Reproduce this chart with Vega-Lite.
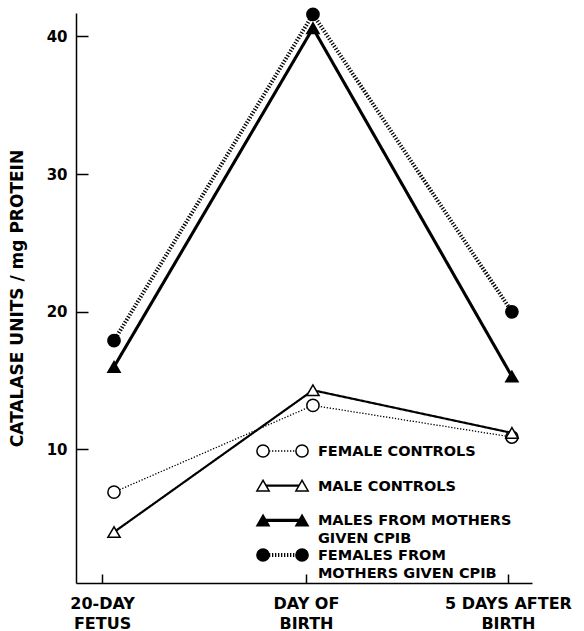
{
  "$schema": "https://vega.github.io/schema/vega-lite/v6.json",
  "width": 456,
  "height": 570,
  "autosize": {"type": "none"},
  "padding": {"left": 76, "top": 13, "right": 52, "bottom": 48},
  "background": "white",
  "config": {
    "view": {"stroke": null},
    "legend": {"disable": true},
    "font": "DejaVu Sans",
    "axis": {"domainColor": "black", "tickColor": "black", "labelColor": "black", "titleColor": "black", "grid": false, "domainWidth": 1.5, "tickWidth": 1.5}
  },
  "datasets": {
    "points": [
      {"series": "Female controls", "stage": "20-day fetus", "t": 0, "value": 6.9},
      {"series": "Female controls", "stage": "Day of birth", "t": 1, "value": 13.2},
      {"series": "Female controls", "stage": "5 days after birth", "t": 2, "value": 10.9},
      {"series": "Male controls", "stage": "20-day fetus", "t": 0, "value": 4.0},
      {"series": "Male controls", "stage": "Day of birth", "t": 1, "value": 14.3},
      {"series": "Male controls", "stage": "5 days after birth", "t": 2, "value": 11.2},
      {"series": "Males from mothers given CPIB", "stage": "20-day fetus", "t": 0, "value": 16.0},
      {"series": "Males from mothers given CPIB", "stage": "Day of birth", "t": 1, "value": 40.6},
      {"series": "Males from mothers given CPIB", "stage": "5 days after birth", "t": 2, "value": 15.3},
      {"series": "Females from mothers given CPIB", "stage": "20-day fetus", "t": 0, "value": 17.9},
      {"series": "Females from mothers given CPIB", "stage": "Day of birth", "t": 1, "value": 41.6},
      {"series": "Females from mothers given CPIB", "stage": "5 days after birth", "t": 2, "value": 20.0}
    ],
    "legend": [
      {"series": "Female controls", "entry": 1, "label": ["FEMALE  CONTROLS"]},
      {"series": "Male controls", "entry": 2, "label": ["MALE  CONTROLS"]},
      {"series": "Males from mothers given CPIB", "entry": 3, "label": ["MALES  FROM  MOTHERS", "GIVEN  CPIB"]},
      {"series": "Females from mothers given CPIB", "entry": 4, "label": ["FEMALES  FROM", "MOTHERS  GIVEN  CPIB"]}
    ]
  },
  "resolve": {"scale": {"y": "independent"}},
  "layer": [
    {
      "data": {"name": "points"},
      "encoding": {
        "x": {
          "field": "t", "type": "quantitative",
          "scale": {"domain": [-0.191, 2.101], "nice": false, "zero": false},
          "axis": {
            "title": null, "values": [-0.06, 0.965, 1.98],
            "labelExpr": "datum.value < 0.5 ? ['20-DAY', 'FETUS'] : datum.value < 1.5 ? ['DAY OF', 'BIRTH'] : ['5 DAYS AFTER', 'BIRTH']",
            "tickSize": -9, "labelPadding": 21, "labelFontSize": 16, "labelFontWeight": "bold", "labelLineHeight": 20,
            "labelFlush": false, "labelOverlap": false, "labelAlign": "center", "labelBaseline": "top"
          }
        },
        "y": {
          "field": "value", "type": "quantitative",
          "scale": {"domain": [0.3, 41.7], "nice": false, "zero": false},
          "axis": {
            "title": "CATALASE UNITS / mg PROTEIN", "titleFontSize": 17, "titleFontWeight": "bold",
            "titleX": -54, "titleBaseline": "alphabetic",
            "values": [10, 20, 30, 40], "tickSize": -12, "labelPadding": 21, "labelFontSize": 15, "labelFontWeight": "bold"
          }
        }
      },
      "layer": [
        {
          "mark": {"type": "line", "color": "black"},
          "encoding": {
            "detail": {"field": "series"},
            "strokeDash": {"field": "series", "type": "nominal", "scale": {"domain": ["Female controls", "Male controls", "Males from mothers given CPIB", "Females from mothers given CPIB"], "range": [[1.3, 1.7], [1, 0], [1, 0], [1.3, 1.7]]}},
            "strokeWidth": {"field": "series", "type": "nominal", "scale": {"domain": ["Female controls", "Male controls", "Males from mothers given CPIB", "Females from mothers given CPIB"], "range": [1.3, 4, 4, 1.3]}}
          }
        },
        {
          "mark": {"type": "point", "filled": true, "stroke": "black", "strokeWidth": 1.5, "size": 150, "opacity": 1},
          "encoding": {
            "shape": {"field": "series", "type": "nominal", "scale": {"domain": ["Female controls", "Male controls", "Males from mothers given CPIB", "Females from mothers given CPIB"], "range": ["circle", "triangle-up", "triangle-up", "circle"]}},
            "fill": {"field": "series", "type": "nominal", "scale": {"domain": ["Female controls", "Male controls", "Males from mothers given CPIB", "Females from mothers given CPIB"], "range": ["white", "white", "black", "black"]}}
          }
        }
      ]
    },
    {
      "data": {"name": "legend"},
      "encoding": {
        "y": {"field": "entry", "type": "quantitative", "scale": {"domain": [1, 4], "range": [438, 542], "nice": false, "zero": false}, "axis": null}
      },
      "layer": [
        {
          "mark": {"type": "rule", "color": "black"},
          "encoding": {
            "x": {"datum": 0.749, "type": "quantitative"},
            "x2": {"datum": 0.945},
            "strokeDash": {"field": "series", "type": "nominal"},
            "strokeWidth": {"field": "series", "type": "nominal"}
          }
        },
        {
          "mark": {"type": "point", "filled": true, "stroke": "black", "strokeWidth": 1.5, "size": 150, "opacity": 1},
          "encoding": {
            "x": {"datum": 0.749, "type": "quantitative"},
            "shape": {"field": "series", "type": "nominal"},
            "fill": {"field": "series", "type": "nominal"}
          }
        },
        {
          "mark": {"type": "point", "filled": true, "stroke": "black", "strokeWidth": 1.5, "size": 150, "opacity": 1},
          "encoding": {
            "x": {"datum": 0.945, "type": "quantitative"},
            "shape": {"field": "series", "type": "nominal"},
            "fill": {"field": "series", "type": "nominal"}
          }
        },
        {
          "mark": {"type": "text", "align": "left", "baseline": "alphabetic", "dy": 5, "fontSize": 14.5, "fontWeight": "bold", "lineHeight": 17.5, "color": "black"},
          "encoding": {
            "x": {"datum": 1.025, "type": "quantitative"},
            "text": {"field": "label"}
          }
        }
      ]
    }
  ]
}
